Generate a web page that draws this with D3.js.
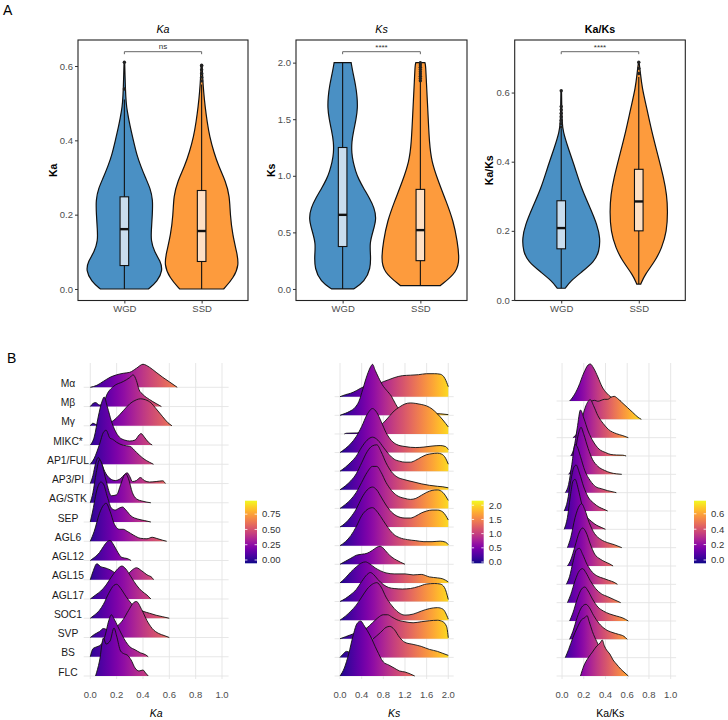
<!DOCTYPE html>
<html>
<head>
<meta charset="utf-8">
<script src="https://cdn.jsdelivr.net/npm/d3@7"></script>
<style>
  body { margin: 0; background: #fff; }
  svg { font-family: "Liberation Sans", Arial, sans-serif; }
</style>
</head>
<body>
<svg id="chart" width="728" height="720"></svg>
<script>
// ---------- panel A data: violin half-densities [value, density] ----------
const types = ['WGD', 'SSD'];

const kaWGD = [[0,24],[0.02,33],[0.05,38.5],[0.075,36],[0.1,30],[0.13,26.5],[0.16,27],[0.2,28],[0.24,28.5],[0.27,26],[0.3,21],[0.33,16.5],[0.36,12.5],[0.4,9],[0.44,5.5],[0.48,2.8],[0.5,1.8],[0.54,1],[0.58,0.6],[0.61,0.3]];
const kaSSD = [[0,22],[0.03,32],[0.065,37.5],[0.1,35],[0.145,31],[0.2,28.5],[0.25,28],[0.29,24],[0.33,17],[0.37,12],[0.41,8],[0.45,5.5],[0.49,3.5],[0.53,2],[0.57,1],[0.6,0.5]];
const ksWGD = [[0,11],[0.065,22],[0.18,28],[0.3,28],[0.4,27],[0.5,30],[0.62,34],[0.72,31.5],[0.8,27],[0.89,21],[0.97,16],[1.04,13],[1.12,10.5],[1.2,9],[1.3,9],[1.4,11],[1.5,13.5],[1.6,15],[1.7,14.5],[1.8,13],[1.9,10.5],[2.0,8.5]];
const ksSSD = [[0.03,20],[0.15,37],[0.27,39],[0.42,37],[0.6,33],[0.77,26],[0.95,18],[1.13,11],[1.3,9],[1.48,8],[1.66,7],[1.83,6],[1.98,5.3],[2.0,4.5]];
const kaksWGD = [[0.034,4],[0.054,9],[0.082,21],[0.111,33],[0.14,38],[0.179,39],[0.217,36],[0.266,29],[0.324,20],[0.381,14],[0.439,7],[0.487,1.7],[0.52,0.8],[0.56,0.5],[0.605,0.3]];
const kaksSSD = [[0.046,2],[0.073,6],[0.111,16],[0.15,23],[0.198,28],[0.256,29],[0.304,28],[0.352,25],[0.42,19],[0.487,13],[0.555,8],[0.613,3.3],[0.66,1.5],[0.688,0.3]];

// boxplot stats [lower whisker, q1, median, q3, upper whisker]
const kaBox = { WGD: [0, 0.063, 0.161, 0.248, 0.51], SSD: [0, 0.074, 0.156, 0.265, 0.55] };
const ksBox = { WGD: [0, 0.375, 0.655, 1.25, 2.0], SSD: [0.03, 0.25, 0.52, 0.88, 1.83] };
const kaksBox = { WGD: [0.034, 0.148, 0.208, 0.287, 0.495], SSD: [0.046, 0.2, 0.285, 0.378, 0.645] };

const kaOut = { WGD: [0.538, 0.61], SSD: [0.56, 0.57, 0.58, 0.59, 0.6, 0.602] };
const ksOut = { WGD: [], SSD: [1.84, 1.86, 1.88, 1.9, 1.92, 1.94, 1.96, 1.98, 2.0] };
const kaksOut = { WGD: [0.5, 0.51, 0.52, 0.53, 0.54, 0.55, 0.56, 0.605], SSD: [0.655, 0.67, 0.688] };

const kaTicks = [0, 0.2, 0.4, 0.6];
const ksTicks = [0, 0.5, 1.0, 1.5, 2.0];
const kaksTicks = [0, 0.2, 0.4, 0.6];

// ---------- panel B data: ridge densities [x, density] per family ----------
const groups = ['Mα','Mβ','Mγ','MIKC*','AP1/FUL','AP3/PI','AG/STK','SEP','AGL6','AGL12','AGL15','AGL17','SOC1','SVP','BS','FLC'];

const kaRidges = [
  [[0,0],[0.05,2],[0.1,6],[0.15,10],[0.2,12.5],[0.25,14],[0.3,15],[0.35,19],[0.4,23],[0.45,20],[0.5,15],[0.55,10],[0.6,5.5],[0.66,0]],
  [[0,0],[0.02,3],[0.04,4],[0.07,1.5],[0.1,3],[0.125,11.7],[0.175,20],[0.25,25],[0.3,29],[0.325,31.7],[0.35,26],[0.37,17],[0.4,12],[0.45,7],[0.5,3],[0.54,0]],
  [[0,0],[0.02,2.5],[0.05,1],[0.1,1],[0.15,3],[0.2,8],[0.25,15],[0.3,22],[0.35,26],[0.38,27],[0.42,26],[0.46,23],[0.5,17],[0.55,9],[0.59,3],[0.62,0]],
  [[0,0],[0.03,8],[0.06,28],[0.09,44],[0.105,48],[0.13,38],[0.16,24],[0.19,14],[0.22,8],[0.26,5],[0.3,4],[0.34,5],[0.37,10],[0.385,11.5],[0.41,8],[0.44,3],[0.47,0]],
  [[0,0],[0.03,6],[0.07,20],[0.1,32],[0.12,34],[0.15,26],[0.17,25],[0.2,22],[0.25,19],[0.3,18],[0.35,12],[0.4,6],[0.45,2],[0.48,0]],
  [[0,0],[0.02,8],[0.04,20],[0.06,26],[0.08,22],[0.11,12],[0.15,5],[0.19,3],[0.23,5],[0.26,9],[0.28,10.7],[0.3,7],[0.32,2],[0.35,3],[0.38,6],[0.41,3],[0.45,1.5],[0.5,2],[0.55,2.7],[0.57,0]],
  [[0,0],[0.02,10],[0.045,30],[0.07,43],[0.09,38],[0.12,22],[0.16,7],[0.2,8],[0.23,18],[0.26,28],[0.27,29],[0.29,24],[0.32,10],[0.35,4],[0.4,1.5],[0.46,0]],
  [[0,0],[0.02,12],[0.05,32],[0.08,40],[0.1,38],[0.13,25],[0.16,14],[0.19,12],[0.22,14],[0.245,15],[0.27,12],[0.31,6],[0.36,3],[0.41,1.5],[0.46,0]],
  [[0,0],[0.03,10],[0.07,28],[0.1,36],[0.12,38],[0.15,30],[0.18,18],[0.22,12],[0.25,12],[0.28,10],[0.33,6],[0.38,3],[0.43,2.5],[0.47,4],[0.5,3],[0.55,1],[0.58,0]],
  [[0,0],[0.03,3],[0.07,8],[0.1,14],[0.13,19],[0.15,20],[0.18,15],[0.21,8],[0.24,3],[0.28,2],[0.31,0]],
  [[0,0],[0.02,8],[0.05,16],[0.08,13],[0.11,12],[0.15,10],[0.2,6],[0.25,3],[0.28,5],[0.32,10],[0.35,12],[0.39,9],[0.43,5],[0.47,2],[0.48,0]],
  [[0,0],[0.04,4],[0.08,8],[0.12,14],[0.16,22],[0.2,29],[0.24,33],[0.27,30],[0.31,22],[0.35,14],[0.39,8],[0.43,4],[0.46,0]],
  [[0,0],[0.03,3],[0.07,8],[0.1,14],[0.14,25],[0.18,33],[0.2,34],[0.23,30],[0.27,22],[0.31,15],[0.35,10],[0.4,7],[0.45,5],[0.5,3],[0.55,1.5],[0.6,0]],
  [[0,0],[0.03,3],[0.07,6],[0.1,9],[0.13,8],[0.17,9],[0.21,12],[0.25,18],[0.29,27],[0.33,35],[0.35,36],[0.39,28],[0.43,17],[0.47,9],[0.52,4],[0.56,2],[0.6,0]],
  [[0,0],[0.02,8],[0.05,10],[0.08,12],[0.11,20],[0.14,36],[0.16,42],[0.18,38],[0.21,30],[0.24,22],[0.27,15],[0.3,10],[0.34,7],[0.38,4],[0.42,2],[0.44,0]],
  [[0.04,0],[0.07,15],[0.1,38],[0.12,32],[0.15,35],[0.18,48],[0.2,40],[0.23,25],[0.26,22],[0.28,21],[0.31,16],[0.34,8],[0.37,5],[0.4,6],[0.42,3],[0.44,0]]
];

const ksRidges = [
  [[0,0],[0.1,2],[0.2,3.5],[0.3,6],[0.4,9],[0.5,11],[0.6,12],[0.7,13],[0.8,15],[0.9,17],[1.0,19],[1.15,21],[1.3,21.5],[1.45,22],[1.6,23],[1.75,23],[1.85,22.5],[1.94,18],[2.0,10]],
  [[0,0],[0.1,2],[0.18,4],[0.28,8],[0.35,14],[0.42,26],[0.5,40],[0.57,49],[0.6,51],[0.65,45],[0.71,38],[0.8,29],[0.86,25],[0.95,19],[1.02,12],[1.08,7],[1.2,4.5],[1.35,3.5],[1.5,2.5],[1.7,2],[1.85,1.5],[2.0,0.7]],
  [[0.08,0],[0.12,0.7],[0.3,1],[0.5,1.5],[0.6,3],[0.7,6],[0.8,11],[0.9,17],[1.0,23],[1.1,27],[1.2,30],[1.3,31],[1.4,30.5],[1.5,29.5],[1.6,28],[1.7,25],[1.8,20],[1.9,14],[2.0,7]],
  [[0,0],[0.1,4],[0.2,9],[0.3,16],[0.4,26],[0.5,38],[0.6,44],[0.68,40],[0.76,31],[0.85,20],[0.95,12],[1.05,8],[1.2,6],[1.4,5],[1.55,5.5],[1.7,6.5],[1.85,7],[1.95,6],[2.0,3]],
  [[0,0],[0.1,4],[0.2,9],[0.3,15],[0.4,24],[0.5,31],[0.6,34],[0.7,31],[0.8,24],[0.9,17],[1.0,12],[1.1,10],[1.2,9],[1.3,9],[1.4,11],[1.5,14],[1.6,16.5],[1.7,17.5],[1.8,18],[1.88,17],[1.95,13],[2.0,7]],
  [[0,0],[0.1,4],[0.2,9],[0.3,16],[0.4,27],[0.5,38],[0.6,44],[0.68,45],[0.76,38],[0.85,27],[0.95,18],[1.05,13],[1.2,10],[1.35,8],[1.5,6],[1.65,4.5],[1.8,3.5],[1.9,3],[2.0,2]],
  [[0,0],[0.1,4],[0.2,9],[0.3,16],[0.4,26],[0.5,36],[0.6,42],[0.68,42],[0.76,36],[0.85,26],[0.95,18],[1.05,13],[1.2,10],[1.3,9],[1.4,10],[1.5,13],[1.6,16],[1.7,18],[1.8,18.5],[1.9,16],[2.0,8]],
  [[0,0],[0.1,4],[0.2,10],[0.3,18],[0.4,29],[0.5,37],[0.6,40],[0.68,37],[0.76,30],[0.85,22],[0.95,15],[1.05,11],[1.2,9],[1.3,9],[1.4,11],[1.5,14],[1.6,16],[1.7,17],[1.8,17],[1.9,15],[2.0,7]],
  [[0,0],[0.1,4],[0.2,10],[0.3,19],[0.4,30],[0.5,36],[0.6,38],[0.7,33],[0.8,25],[0.9,17],[1.0,11],[1.1,8],[1.25,6],[1.4,5],[1.55,4],[1.7,4],[1.85,4.5],[1.95,3.5],[2.0,1]],
  [[0,0],[0.1,3],[0.2,6],[0.3,9],[0.4,10],[0.5,11],[0.6,14],[0.68,17],[0.74,18],[0.8,16],[0.88,11],[0.96,7],[1.05,4],[1.12,2],[1.2,0]],
  [[0,0],[0.1,5],[0.2,11],[0.3,16],[0.4,20],[0.47,21],[0.55,19],[0.65,15],[0.75,12],[0.85,10],[1.0,9],[1.2,9],[1.35,8],[1.5,8.5],[1.65,6],[1.8,5],[1.9,4],[2.0,1]],
  [[0,0],[0.1,3],[0.2,7],[0.3,12],[0.4,20],[0.5,27],[0.56,29],[0.62,27],[0.7,22],[0.8,17],[0.9,14],[1.0,13],[1.15,12.5],[1.3,13],[1.45,15],[1.6,17.5],[1.75,18],[1.85,17.5],[1.93,14],[2.0,2]],
  [[0,0],[0.1,4],[0.2,9],[0.3,15],[0.4,23],[0.5,31],[0.6,36],[0.68,37.5],[0.76,33],[0.85,23],[0.95,15],[1.05,9],[1.2,5],[1.35,6],[1.5,9],[1.65,11.5],[1.8,12.5],[1.9,11],[2.0,1]],
  [[0,0],[0.1,2],[0.2,4],[0.3,6],[0.4,8],[0.5,11],[0.6,16],[0.7,21],[0.8,24],[0.88,24],[0.95,22],[1.05,19],[1.2,17],[1.35,16],[1.5,17],[1.65,18],[1.8,18.5],[1.9,17],[1.97,12],[2.0,1]],
  [[0,0],[0.05,3],[0.12,6],[0.2,5],[0.3,8],[0.45,12],[0.6,18],[0.75,25],[0.85,30],[0.92,31],[1.0,28],[1.1,20],[1.2,15],[1.35,13],[1.5,11],[1.65,8],[1.8,6],[1.9,4],[2.0,2]],
  [[0,0],[0.08,8],[0.16,22],[0.24,40],[0.31,52],[0.38,55],[0.45,50],[0.56,40],[0.68,26],[0.8,14],[0.9,11],[1.0,8],[1.1,5],[1.2,4],[1.3,2],[1.38,0]]
];

const kaksRidges = [
  [[0.07,0],[0.1,4],[0.15,14],[0.2,28],[0.24,36],[0.26,37],[0.29,33],[0.33,24],[0.37,14],[0.41,8],[0.45,4],[0.5,1.5],[0.54,0]],
  [[0.16,0],[0.2,4],[0.23,12],[0.27,18],[0.3,19],[0.33,18],[0.36,19],[0.39,20],[0.42,20],[0.45,22],[0.48,23],[0.51,21],[0.55,17],[0.6,12],[0.65,7],[0.7,2],[0.73,0]],
  [[0.1,0],[0.14,5],[0.18,18],[0.22,32],[0.26,38],[0.29,32],[0.33,22],[0.38,14],[0.43,8],[0.5,4],[0.56,2],[0.61,0]],
  [[0.08,0],[0.11,8],[0.14,28],[0.17,46],[0.2,38],[0.24,25],[0.29,14],[0.34,7],[0.4,3.5],[0.45,1.5],[0.5,1],[0.56,0.8],[0.59,0]],
  [[0.06,0],[0.09,6],[0.12,22],[0.15,40],[0.175,47],[0.2,40],[0.24,26],[0.28,15],[0.33,8],[0.39,4],[0.45,1.5],[0.5,0.5],[0.55,0]],
  [[0.03,0],[0.06,8],[0.09,28],[0.12,48],[0.14,46],[0.17,36],[0.21,22],[0.26,12],[0.31,6],[0.36,4],[0.42,2],[0.48,0.5],[0.5,0]],
  [[0.02,0],[0.05,10],[0.08,30],[0.11,44],[0.13,46],[0.16,38],[0.2,24],[0.24,14],[0.29,8],[0.34,4],[0.38,2],[0.42,0]],
  [[0.02,0],[0.05,12],[0.08,36],[0.1,48],[0.12,50],[0.15,40],[0.18,26],[0.22,14],[0.27,8],[0.32,4],[0.36,2],[0.4,0]],
  [[0.05,0],[0.08,10],[0.12,30],[0.16,42],[0.18,44],[0.21,38],[0.25,25],[0.3,14],[0.36,8],[0.42,5],[0.48,3],[0.55,0]],
  [[0.05,0],[0.08,6],[0.12,20],[0.16,34],[0.19,38],[0.22,34],[0.26,22],[0.3,12],[0.35,7],[0.4,4],[0.44,2],[0.47,0]],
  [[0.04,0],[0.07,8],[0.1,22],[0.13,34],[0.16,36],[0.19,30],[0.23,20],[0.28,12],[0.33,8],[0.38,6],[0.43,4],[0.48,2],[0.51,0]],
  [[0.05,0],[0.08,8],[0.12,22],[0.16,32],[0.19,34],[0.22,30],[0.26,22],[0.31,14],[0.36,9],[0.42,6],[0.48,3],[0.54,0]],
  [[0.07,0],[0.1,8],[0.14,22],[0.18,32],[0.21,34],[0.24,30],[0.28,22],[0.33,14],[0.38,10],[0.44,7],[0.5,5],[0.56,3],[0.61,0]],
  [[0.07,0],[0.1,8],[0.14,22],[0.18,32],[0.22,35],[0.25,32],[0.29,24],[0.34,16],[0.4,10],[0.46,7],[0.52,5],[0.57,3],[0.6,0]],
  [[0.03,0],[0.06,8],[0.1,20],[0.14,30],[0.18,38],[0.21,40],[0.23,42],[0.25,36],[0.28,26],[0.32,16],[0.36,8],[0.4,3],[0.44,0]],
  [[0.17,0],[0.2,10],[0.24,18],[0.28,24],[0.32,30],[0.35,33],[0.37,36],[0.39,30],[0.41,26],[0.44,22],[0.47,16],[0.5,12],[0.54,7],[0.58,3],[0.61,0]]
];

const kaAxisTicks = [0, 0.2, 0.4, 0.6, 0.8, 1.0];
const ksAxisTicks = [0, 0.4, 0.8, 1.2, 1.6, 2.0];
const kaksAxisTicks = [0, 0.2, 0.4, 0.6, 0.8, 1.0];
const kaLegendTicks = [0, 0.25, 0.5, 0.75];
const ksLegendTicks = [0, 0.5, 1.0, 1.5, 2.0];
const kaksLegendTicks = [0, 0.2, 0.4, 0.6];

// ---------- drawing ----------
const svg = d3.select('#chart');
const violinFill = { WGD: '#4A90C4', SSD: '#FD9B3D' };
const boxFill = { WGD: '#C9DDEE', SSD: '#FFE0C4' };
const tickGrey = '#4D4D4D';

svg.append('text').attr('x', 3).attr('y', 15).attr('font-size', 14).text('A');
svg.append('text').attr('x', 7).attr('y', 363).attr('font-size', 14).text('B');

const violinPanels = [
  { title: 'Ka', italic: true, xr: [78, 248], ydom: [-0.031, 0.67], ticks: kaTicks, dens: { WGD: kaWGD, SSD: kaSSD }, box: kaBox, out: kaOut, sig: 'ns' },
  { title: 'Ks', italic: true, xr: [296, 467], ydom: [-0.102, 2.2], ticks: ksTicks, dens: { WGD: ksWGD, SSD: ksSSD }, box: ksBox, out: ksOut, sig: '****' },
  { title: 'Ka/Ks', italic: false, xr: [514.7, 685.3], ydom: [-0.0015, 0.752], ticks: kaksTicks, dens: { WGD: kaksWGD, SSD: kaksSSD }, box: kaksBox, out: kaksOut, sig: '****' }
];

const plotTop = 40, plotBottom = 300.5;
const halfW = d3.scaleLinear().domain([0, 40]).range([0, 40]);

violinPanels.forEach(p => {
  const g = svg.append('g');
  const x = d3.scalePoint().domain(types).range(p.xr).padding(0.6);
  const y = d3.scaleLinear().domain(p.ydom).range([plotBottom, plotTop]);

  types.forEach(t => {
    const cx = x(t);
    const area = d3.area()
      .curve(d3.curveBasis)
      .y(d => y(d[0]))
      .x0(d => cx - halfW(d[1]))
      .x1(d => cx + halfW(d[1]));
    g.append('path')
      .datum(p.dens[t])
      .attr('d', area)
      .attr('fill', violinFill[t])
      .attr('stroke', '#111')
      .attr('stroke-width', 1.2);

    const [lo, q1, med, q3, hi] = p.box[t];
    const bw = 8.6;
    g.append('line')
      .attr('x1', cx).attr('x2', cx)
      .attr('y1', y(lo)).attr('y2', y(hi))
      .attr('stroke', '#111').attr('stroke-width', 1.1);
    g.append('rect')
      .attr('x', cx - bw / 2).attr('width', bw)
      .attr('y', y(q3)).attr('height', y(q1) - y(q3))
      .attr('fill', boxFill[t])
      .attr('stroke', '#111').attr('stroke-width', 1.1);
    g.append('line')
      .attr('x1', cx - bw / 2).attr('x2', cx + bw / 2)
      .attr('y1', y(med)).attr('y2', y(med))
      .attr('stroke', '#111').attr('stroke-width', 2.4);
    g.selectAll(null)
      .data(p.out[t])
      .enter().append('circle')
      .attr('cx', cx).attr('cy', d => y(d))
      .attr('r', 1.7).attr('fill', '#222');
  });

  // panel border
  g.append('rect')
    .attr('x', p.xr[0]).attr('y', plotTop)
    .attr('width', p.xr[1] - p.xr[0]).attr('height', plotBottom - plotTop)
    .attr('fill', 'none').attr('stroke', '#222').attr('stroke-width', 1.1);

  // axes
  const yAxis = g.append('g')
    .attr('transform', `translate(${p.xr[0]},0)`)
    .call(d3.axisLeft(y).tickValues(p.ticks).tickSize(3).tickPadding(2).tickFormat(d3.format('.1f')));
  const xAxis = g.append('g')
    .attr('transform', `translate(0,${plotBottom})`)
    .call(d3.axisBottom(x).tickSize(3).tickPadding(2));
  [yAxis, xAxis].forEach(a => {
    a.select('.domain').remove();
    a.selectAll('.tick line').attr('stroke', '#333');
    a.selectAll('.tick text').attr('fill', tickGrey).attr('font-size', 9.5)
      .attr('font-family', '"Liberation Sans", Arial, sans-serif');
  });

  const cxMid = (p.xr[0] + p.xr[1]) / 2;
  g.append('text')
    .attr('x', cxMid).attr('y', 33)
    .attr('text-anchor', 'middle')
    .attr('font-size', 10.7)
    .attr('font-style', p.italic ? 'italic' : 'normal')
    .attr('font-weight', p.italic ? 'normal' : 'bold')
    .text(p.title);
  g.append('text')
    .attr('transform', `translate(${p.xr[0] - 25},${(plotTop + plotBottom) / 2}) rotate(-90)`)
    .attr('text-anchor', 'middle').attr('dy', '0.35em')
    .attr('font-size', 10.5).attr('font-weight', 'bold')
    .text(p.title);

  // significance bracket
  const bx1 = x('WGD'), bx2 = x('SSD'), by = 51.7;
  g.append('path')
    .attr('d', `M${bx1},${by + 2.5}V${by}H${bx2}V${by + 2.5}`)
    .attr('fill', 'none').attr('stroke', '#666').attr('stroke-width', 1);
  g.append('text')
    .attr('x', (bx1 + bx2) / 2).attr('y', p.sig === 'ns' ? 48.5 : 49.5)
    .attr('text-anchor', 'middle').attr('font-size', 8).attr('fill', '#333')
    .text(p.sig);
});

// ---------- panel B: ridgelines ----------
const ridgePanels = [
  { id: 'ka', dens: kaRidges, xdom: [-0.05, 1.05], xr: [83.7, 228.6], topY: 387.3, ticks: kaAxisTicks, title: 'Ka', italic: true,
    cdom: [-0.054, 0.97], cbx: 245, cticks: kaLegendTicks, cfmt: '.2f', labels: true },
  { id: 'ks', dens: ksRidges, xdom: [-0.1, 2.1], xr: [334.6, 453.7], topY: 396.7, ticks: ksAxisTicks, title: 'Ks', italic: true,
    cdom: [-0.045, 2.16], cbx: 471.7, cticks: ksLegendTicks, cfmt: '.1f', labels: false },
  { id: 'kaks', dens: kaksRidges, xdom: [-0.05, 1.05], xr: [556.6, 676.1], topY: 401, ticks: kaksAxisTicks, title: 'Ka/Ks', italic: false,
    cdom: [-0.043, 0.77], cbx: 694, cticks: kaksLegendTicks, cfmt: '.1f', labels: false }
];

const gridTop = 363, baseBottom = 676, gridBottom = 679;
const ridgeH = d3.scaleLinear().domain([0, 50]).range([0, 50]);
const defs = svg.append('defs');

ridgePanels.forEach(p => {
  const g = svg.append('g');
  const x = d3.scaleLinear().domain(p.xdom).range(p.xr);
  const yb = d3.scalePoint().domain(groups).range([p.topY, baseBottom]);

  // horizontal fill gradient (plasma over x)
  const grad = defs.append('linearGradient')
    .attr('id', 'grad-' + p.id)
    .attr('gradientUnits', 'userSpaceOnUse')
    .attr('x1', x(p.cdom[0])).attr('x2', x(p.cdom[1]))
    .attr('y1', 0).attr('y2', 0);
  d3.range(0, 1.0001, 0.05).forEach(t => {
    grad.append('stop').attr('offset', t).attr('stop-color', d3.interpolatePlasma(t));
  });

  // grid
  g.selectAll('.vgrid').data(p.ticks).enter().append('line')
    .attr('x1', d => x(d)).attr('x2', d => x(d))
    .attr('y1', gridTop).attr('y2', gridBottom)
    .attr('stroke', '#E4E4E4').attr('stroke-width', 0.9);
  g.selectAll('.hgrid').data(groups).enter().append('line')
    .attr('x1', p.xr[0]).attr('x2', p.xr[1])
    .attr('y1', d => yb(d)).attr('y2', d => yb(d))
    .attr('stroke', '#E4E4E4').attr('stroke-width', 0.9);

  // ridges, top row first so lower rows sit in front
  groups.forEach((grp, i) => {
    const base = yb(grp);
    const pts = p.dens[i];
    const area = d3.area()
      .curve(d3.curveMonotoneX)
      .x(d => x(d[0]))
      .y0(base)
      .y1(d => base - ridgeH(d[1]));
    const line = d3.line()
      .curve(d3.curveMonotoneX)
      .x(d => x(d[0]))
      .y(d => base - ridgeH(d[1]));
    g.append('path').datum(pts).attr('d', area)
      .attr('fill', `url(#grad-${p.id})`);
    g.append('path').datum(pts).attr('d', line)
      .attr('fill', 'none').attr('stroke', '#111').attr('stroke-width', 0.9);
  });

  // category labels
  if (p.labels) {
    g.selectAll('.cat').data(groups).enter().append('text')
      .attr('x', 68).attr('y', d => yb(d) - 0.5)
      .attr('text-anchor', 'middle')
      .attr('font-size', 10.3).attr('fill', '#1a1a1a')
      .text(d => d);
  }

  // x tick labels
  g.selectAll('.xt').data(p.ticks).enter().append('text')
    .attr('x', d => x(d)).attr('y', 698)
    .attr('text-anchor', 'middle')
    .attr('font-size', 9.5).attr('fill', tickGrey)
    .text(d => d3.format('.1f')(d));
  g.append('text')
    .attr('x', (p.xr[0] + p.xr[1]) / 2 + (p.id === 'kaks' ? -6 : 0)).attr('y', 717)
    .attr('text-anchor', 'middle').attr('font-size', 10.5)
    .attr('font-style', p.italic ? 'italic' : 'normal')
    .text(p.title);

  // colour bar legend
  const cbTop = 500.7, cbBot = 563.3, cbW = 12;
  const cy = d3.scaleLinear().domain(p.cdom).range([cbBot, cbTop]);
  const vgrad = defs.append('linearGradient')
    .attr('id', 'cbar-' + p.id)
    .attr('x1', 0).attr('x2', 0).attr('y1', 1).attr('y2', 0);
  d3.range(0, 1.0001, 0.05).forEach(t => {
    vgrad.append('stop').attr('offset', t).attr('stop-color', d3.interpolatePlasma(t));
  });
  g.append('rect')
    .attr('x', p.cbx).attr('y', cbTop)
    .attr('width', cbW).attr('height', cbBot - cbTop)
    .attr('fill', `url(#cbar-${p.id})`);
  p.cticks.forEach(v => {
    [[p.cbx, p.cbx + 2.4], [p.cbx + cbW - 2.4, p.cbx + cbW]].forEach(([a, b]) => {
      g.append('line').attr('x1', a).attr('x2', b)
        .attr('y1', cy(v)).attr('y2', cy(v))
        .attr('stroke', '#fff').attr('stroke-width', 0.8);
    });
    g.append('text')
      .attr('x', p.cbx + cbW + 5).attr('y', cy(v)).attr('dy', '0.35em')
      .attr('font-size', 9.5).attr('fill', '#333')
      .text(d3.format(p.cfmt)(v));
  });
});
</script>
</body>
</html>
